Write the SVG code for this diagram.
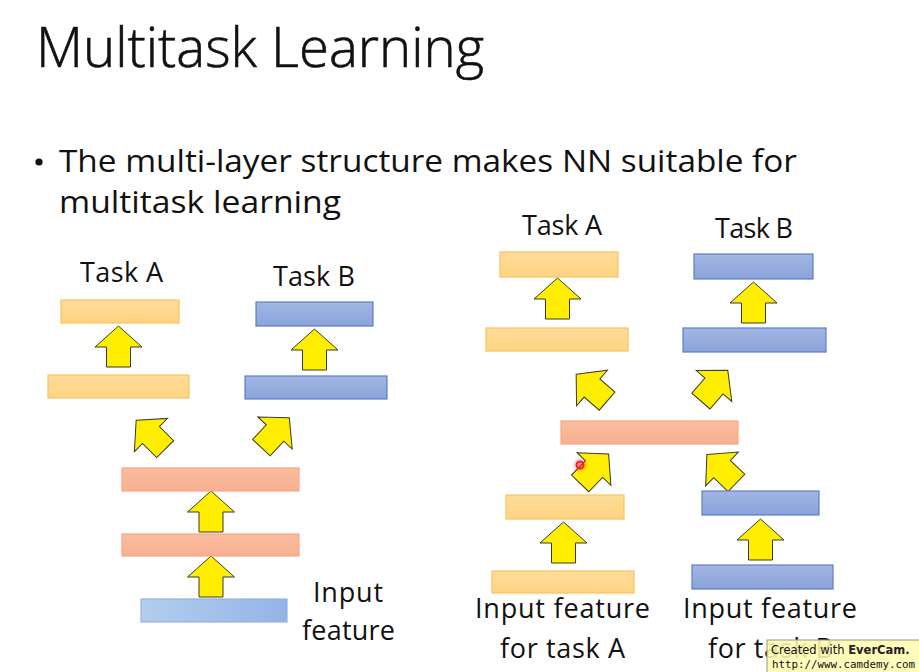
<svg xmlns="http://www.w3.org/2000/svg" xmlns:xlink="http://www.w3.org/1999/xlink" width="919" height="672" viewBox="0 0 919 672">
<style>
text{font-family:"Open Sans","Noto Sans","Liberation Sans",sans-serif;fill:#111}
.t{font-size:27px}
.o{fill:url(#gO);stroke:#f8c35c;stroke-width:1.2}
.b{fill:url(#gB);stroke:#5b7ec8;stroke-width:1.2}
.bi{fill:url(#gBi);stroke:#94b3e0;stroke-width:1.2}
.p{fill:url(#gP);stroke:#f5a882;stroke-width:1.2}
.ar{fill:#ffee00;stroke:#3a3a2a;stroke-width:1;stroke-linejoin:miter}
</style>
<defs>
<linearGradient id="gO" x1="0" y1="0" x2="0" y2="1"><stop offset="0" stop-color="#ffdc9a"/><stop offset="1" stop-color="#ffd483"/></linearGradient>
<linearGradient id="gB" x1="0" y1="0" x2="0" y2="1"><stop offset="0" stop-color="#a3b6e4"/><stop offset="1" stop-color="#8aa3da"/></linearGradient>
<linearGradient id="gBi" x1="0" y1="0" x2="1" y2="0"><stop offset="0" stop-color="#b4cdee"/><stop offset="1" stop-color="#93b5e6"/></linearGradient>
<linearGradient id="gP" x1="0" y1="0" x2="0" y2="1"><stop offset="0" stop-color="#fabca0"/><stop offset="1" stop-color="#f8b090"/></linearGradient>
<radialGradient id="gR"><stop offset="0" stop-color="#ff3030" stop-opacity="0.6"/><stop offset="1" stop-color="#ff3030" stop-opacity="0"/></radialGradient>
<path id="arw" d="M0,-21 L23.5,0 L12,0 L12,20 L-12,20 L-12,0 L-23.5,0 Z"/>
</defs>
<rect width="919" height="672" fill="#ffffff"/>

<text x="36" y="67" font-size="55" font-weight="300" textLength="448" lengthAdjust="spacingAndGlyphs" style="stroke:#111;stroke-width:0.6">Multitask Learning</text>
<circle cx="39" cy="162" r="3.6" fill="#111"/>
<text x="59" y="172" font-size="31" textLength="738" lengthAdjust="spacingAndGlyphs">The multi-layer structure makes NN suitable for</text>
<text x="59" y="213" font-size="31" textLength="282" lengthAdjust="spacingAndGlyphs">multitask learning</text>

<g id="connectors" class="ar">
<use xlink:href="#arw" href="#arw" transform="translate(118.5,347)"/>
<use xlink:href="#arw" href="#arw" transform="translate(314.5,350)"/>
<use xlink:href="#arw" href="#arw" transform="translate(151,435) rotate(-45)"/>
<use xlink:href="#arw" href="#arw" transform="translate(275,433) rotate(43)"/>
<use xlink:href="#arw" href="#arw" transform="translate(211,512)"/>
<use xlink:href="#arw" href="#arw" transform="translate(211,577)"/>
<use xlink:href="#arw" href="#arw" transform="translate(557.5,299)"/>
<use xlink:href="#arw" href="#arw" transform="translate(753.5,303)"/>
<use xlink:href="#arw" href="#arw" transform="translate(592,388) rotate(-49)"/>
<use xlink:href="#arw" href="#arw" transform="translate(714,386) rotate(41)"/>
<use xlink:href="#arw" href="#arw" transform="translate(594,469) rotate(44)"/>
<use xlink:href="#arw" href="#arw" transform="translate(722,469) rotate(-46)"/>
<use xlink:href="#arw" href="#arw" transform="translate(563.5,543)"/>
<use xlink:href="#arw" href="#arw" transform="translate(760.5,540)"/>
</g>

<g id="left-taskA-label"><text class="t" x="80" y="282" textLength="83">Task A</text></g>
<g id="left-taskB-label"><text class="t" x="273" y="286" textLength="82">Task B</text></g>
<g id="left-A-top"><rect class="o" x="61" y="300" width="118" height="23"/></g>
<g id="left-A-low"><rect class="o" x="48" y="375" width="141" height="23"/></g>
<g id="left-B-top"><rect class="b" x="256" y="302" width="117" height="24"/></g>
<g id="left-B-low"><rect class="b" x="245" y="376" width="142" height="23"/></g>
<g id="left-shared-2"><rect class="p" x="122" y="468" width="177" height="23"/></g>
<g id="left-shared-1"><rect class="p" x="122" y="534" width="177" height="22"/></g>
<g id="left-input"><rect class="bi" x="141" y="599" width="146" height="23"/></g>
<g id="left-input-label">
<text class="t" x="313" y="602" textLength="70">Input</text>
<text class="t" x="302" y="640" textLength="93">feature</text>
</g>

<g id="right-taskA-label"><text class="t" x="522" y="235" textLength="80">Task A</text></g>
<g id="right-taskB-label"><text class="t" x="715" y="238" textLength="78">Task B</text></g>
<g id="right-A-top"><rect class="o" x="500" y="252" width="118" height="25"/></g>
<g id="right-A-low"><rect class="o" x="486" y="328" width="142" height="23"/></g>
<g id="right-B-top"><rect class="b" x="694" y="254" width="119" height="25"/></g>
<g id="right-B-low"><rect class="b" x="683" y="328" width="143" height="24"/></g>
<g id="right-shared"><rect class="p" x="561" y="421" width="177" height="23"/></g>
<g id="right-A-hidden"><rect class="o" x="506" y="495" width="118" height="24"/></g>
<g id="right-B-hidden"><rect class="b" x="702" y="491" width="117" height="24"/></g>
<g id="right-A-input"><rect class="o" x="492" y="571" width="142" height="22"/></g>
<g id="right-B-input"><rect class="b" x="692" y="565" width="141" height="24"/></g>
<g id="right-A-label">
<text class="t" x="475" y="618" textLength="175">Input feature</text>
<text class="t" x="500" y="658" textLength="125">for task A</text>
</g>
<g id="right-B-label">
<text class="t" x="683" y="618" textLength="174">Input feature</text>
<text class="t" x="708" y="658" textLength="125">for task B</text>
</g>

<g id="cursor">
<circle cx="580" cy="465" r="8" fill="url(#gR)"/>
<circle cx="580" cy="465" r="3.5" fill="none" stroke="#ff1a1a" stroke-width="2"/>
</g>

<g id="watermark">
<rect x="767" y="640" width="160" height="40" fill="#fffbb0" fill-opacity="0.88" stroke="#9a9a80" stroke-width="1"/>
<text x="771" y="654" font-size="11.5" fill="#333" style="font-family:'DejaVu Sans','Liberation Sans',sans-serif">Created with <tspan font-weight="bold" fill="#222">EverCam.</tspan></text>
<text x="772" y="668" font-size="10.8" fill="#333" style="font-family:'DejaVu Sans Mono','Liberation Mono',monospace">http://www.camdemy.com</text>
</g>
</svg>
